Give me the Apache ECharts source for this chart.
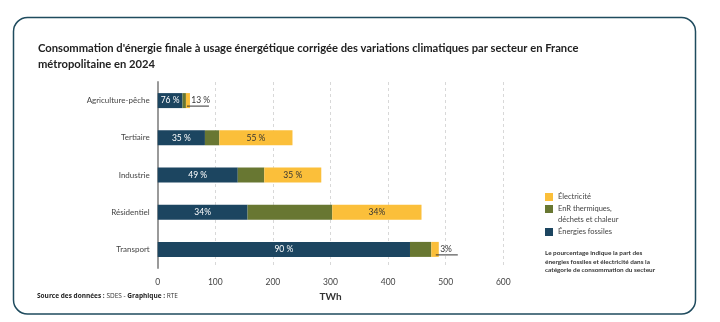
<!DOCTYPE html>
<html><head><meta charset="utf-8">
<script src="https://cdn.jsdelivr.net/npm/echarts@6/dist/echarts.min.js"></script>
<style>html,body{margin:0;padding:0;background:#fff}#c{width:720px;height:322px}</style>
</head><body><div id="c"></div>
<script>
const categories = ['Agriculture-pêche', 'Tertiaire', 'Industrie', 'Résidentiel', 'Transport'];
const fossiles = [43, 82, 139, 156, 438];
const enr = [6, 25, 46, 147, 37];
const electricite = [7, 127, 99, 155, 13];
const pctFossiles = ['76 %', '35 %', '49 %', '34%', '90 %'];
const pctElec = ['13 %', '55 %', '35 %', '34%', '3%'];
const outsideElec = [true, false, false, false, true];
const legendNames = ['Électricité', 'EnR thermiques,\ndéchets et chaleur', 'Énergies fossiles'];

const FONT = 'Lato, "Open Sans", sans-serif';
const cFossile = '#1c4560', cEnr = '#687732', cElec = '#fbbf3a';
const legendColors = [cElec, cEnr, cFossile];

const chart = echarts.init(document.getElementById('c'), null, {renderer: 'canvas'});

const elecData = electricite.map((v, i) => {
  if (outsideElec[i]) {
    return {
      value: v,
      label: {
        show: true, position: 'right', distance: -3,
        formatter: '{t|  ' + pctElec[i] + '}\n{u|}',
        rich: {
          t: {fontFamily: FONT, fontSize: 8.5, color: '#333', lineHeight: 11},
          u: {width: 22, height: 1, lineHeight: 1, backgroundColor: '#333'}
        }
      }
    };
  }
  return {value: v, label: {show: true, position: 'inside', formatter: pctElec[i], color: '#333'}};
});

// legend drawn as graphic (swatch aligned to first line of text)
const legendTops = [193, 205, 228];
const legendGraphics = [];
legendNames.forEach((n, i) => {
  legendGraphics.push({type: 'rect', shape: {x: 545, y: legendTops[i], width: 8, height: 8}, style: {fill: legendColors[i]}});
  legendGraphics.push({type: 'text', x: 558, y: legendTops[i] - 1.5,
    style: {text: n, font: '7.5px ' + FONT, fill: '#444', lineHeight: 11, textVerticalAlign: 'top'}});
});

const option = {
  animation: false,
  textStyle: {fontFamily: FONT},
  title: [
    {text: "Consommation d'énergie finale à usage énergétique corrigée des variations climatiques par secteur en France\nmétropolitaine en 2024",
     left: 38, top: 40, padding: 0, textStyle: {fontFamily: FONT, fontSize: 11.2, fontWeight: 'bold', color: '#222', lineHeight: 16}},
    {text: '{b|Source des données :} {n|SDES - }{b|Graphique :}{n| RTE}', left: 37, top: 293, padding: 0,
     textStyle: {fontFamily: '"Open Sans", sans-serif', fontSize: 6.5, color: '#333',
       rich: {b: {fontFamily: '"Open Sans", sans-serif', fontSize: 6.5, fontWeight: 'bold', color: '#222'},
              n: {fontFamily: '"Open Sans", sans-serif', fontSize: 6.5, fontWeight: 'normal', color: '#333'}}}},
    {text: 'Le pourcentage indique la part des\nénergies fossiles et électricité dans la\ncatégorie de consommation du secteur', left: 545, top: 249, padding: 0,
     textStyle: {fontFamily: FONT, fontSize: 6.4, color: '#333', lineHeight: 8.5}}
  ],
  graphic: [
    {type: 'rect', shape: {x: 13.5, y: 17.5, width: 682, height: 296.5, r: 14}, style: {fill: 'none', stroke: '#1f4b5e', lineWidth: 1.5}, z: -1}
  ].concat(legendGraphics),
  grid: {left: 157.7, right: 216.7, top: 82, bottom: 54},
  xAxis: {
    type: 'value', min: 0, max: 600, interval: 100,
    name: 'TWh', nameLocation: 'middle', nameGap: 20,
    nameTextStyle: {fontFamily: FONT, fontSize: 10, fontWeight: 'bold', color: '#333'},
    axisLine: {show: false}, axisTick: {show: false},
    axisLabel: {fontFamily: FONT, fontSize: 8.5, color: '#444', margin: 10},
    splitLine: {show: true, lineStyle: {type: [3, 3], color: '#d8d8d8', width: 1}}
  },
  yAxis: {
    type: 'category', data: categories, inverse: true,
    axisLine: {show: true, lineStyle: {color: '#9a9a9a', width: 2}},
    axisTick: {show: false},
    axisLabel: {fontFamily: FONT, fontSize: 8, color: '#444', margin: 8}
  },
  series: [
    {name: legendNames[2], type: 'bar', stack: 's', data: fossiles, barWidth: 15,
     itemStyle: {color: cFossile},
     label: {show: true, position: 'inside', color: '#fff', fontFamily: FONT, fontSize: 8.5,
             formatter: p => pctFossiles[p.dataIndex]}},
    {name: legendNames[1], type: 'bar', stack: 's', data: enr, barWidth: 15,
     itemStyle: {color: cEnr}},
    {name: legendNames[0], type: 'bar', stack: 's', data: elecData, barWidth: 15,
     itemStyle: {color: cElec},
     label: {fontFamily: FONT, fontSize: 8.5}}
  ]
};
chart.setOption(option);
</script></body></html>
